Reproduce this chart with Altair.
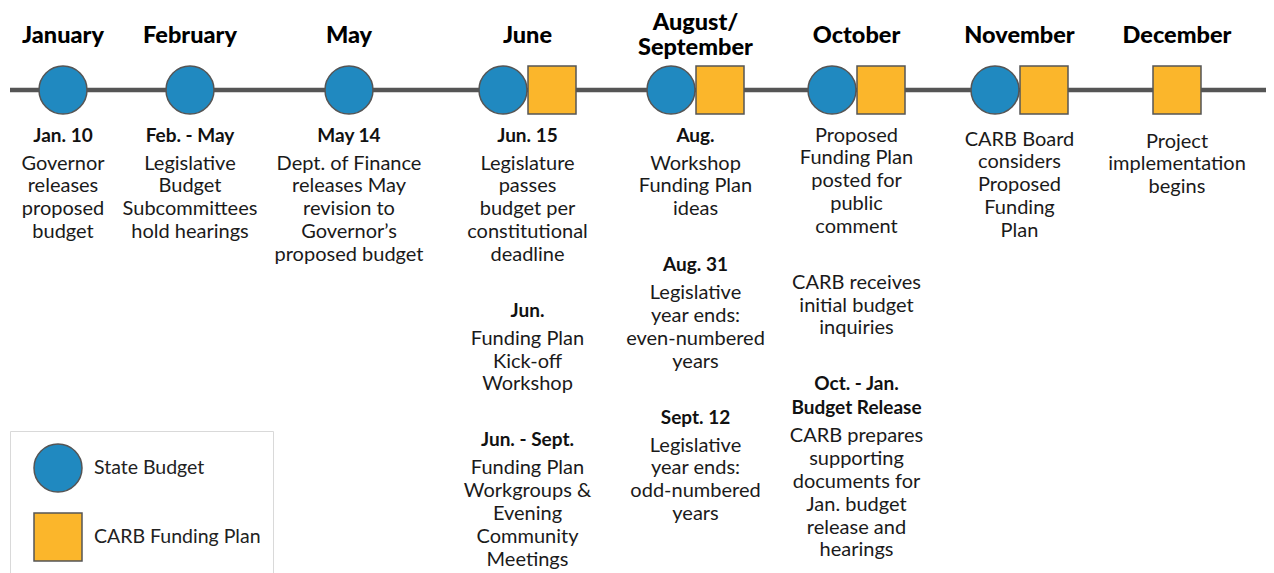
import altair as alt
import pandas as pd

# ---- content ----
months = ["January", "February", "May", "June", "August/\nSeptember",
          "October", "November", "December"]
state_budget_months = ["January", "February", "May", "June", "August/\nSeptember",
                       "October", "November"]
funding_plan_months = ["June", "August/\nSeptember", "October", "November", "December"]

# (month, heading lines, description lines)
events = [
    ("January", ["Jan. 10"], ["Governor", "releases", "proposed", "budget"]),
    ("February", ["Feb. - May"], ["Legislative", "Budget", "Subcommittees", "hold hearings"]),
    ("May", ["May 14"], ["Dept. of Finance", "releases May", "revision to",
                         "Governor\u2019s", "proposed budget"]),
    ("June", ["Jun. 15"], ["Legislature", "passes", "budget per", "constitutional", "deadline"]),
    ("June", ["Jun."], ["Funding Plan", "Kick-off", "Workshop"]),
    ("June", ["Jun. - Sept."], ["Funding Plan", "Workgroups &", "Evening", "Community", "Meetings"]),
    ("August/\nSeptember", ["Aug."], ["Workshop", "Funding Plan", "ideas"]),
    ("August/\nSeptember", ["Aug. 31"], ["Legislative", "year ends:", "even-numbered", "years"]),
    ("August/\nSeptember", ["Sept. 12"], ["Legislative", "year ends:", "odd-numbered", "years"]),
    ("October", [], ["Proposed", "Funding Plan", "posted for", "public", "comment"]),
    ("October", [], ["CARB receives", "initial budget", "inquiries"]),
    ("October", ["Oct. - Jan.", "Budget Release"], ["CARB prepares", "supporting",
                                                    "documents for", "Jan. budget",
                                                    "release and", "hearings"]),
    ("November", [], ["CARB Board", "considers", "Proposed", "Funding", "Plan"]),
    ("December", [], ["Project", "implementation", "begins"]),
]

series = ["State Budget", "CARB Funding Plan"]
series_colors = ["#2089C0", "#FBB62B"]
series_shapes = ["circle", "square"]

# ---- layout (pixels) ----
col_center = dict(zip(months, [63, 190, 349, 527.5, 695.5, 856.5, 1019.5, 1177]))
col_start = {m: 135.5 for m in months}
col_start["November"] = 139.5
col_start["December"] = 141.5
TIMELINE_Y = 90
PAIR_OFF = 24.5
HEAD_GAP, HEAD_TO_DESC, DESC_GAP, BLOCK_GAP = 24, 28, 22.8, 56
FONT = "Lato"

# month titles
title_rows = []
for m in months:
    parts = m.split("\n")
    if len(parts) == 1:
        title_rows.append({"x": col_center[m], "y": 35.5, "t": parts[0]})
    else:
        title_rows.append({"x": col_center[m], "y": 22.5, "t": parts[0]})
        title_rows.append({"x": col_center[m], "y": 48, "t": parts[1]})
titles = pd.DataFrame(title_rows)

# markers
mk = []
for m in months:
    has_s = m in state_budget_months
    has_f = m in funding_plan_months
    if has_s and has_f:
        mk.append({"x": col_center[m] - PAIR_OFF, "y": TIMELINE_Y, "s": series[0]})
        mk.append({"x": col_center[m] + PAIR_OFF, "y": TIMELINE_Y, "s": series[1]})
    elif has_s:
        mk.append({"x": col_center[m], "y": TIMELINE_Y, "s": series[0]})
    else:
        mk.append({"x": col_center[m], "y": TIMELINE_Y, "s": series[1]})
markers = pd.DataFrame(mk)

# event text lines
cursor = dict(col_start)
head_rows, desc_rows = [], []
for m, heads, descs in events:
    y = cursor[m]
    last = None
    for h in heads:
        head_rows.append({"x": col_center[m], "y": y, "t": h})
        last = y
        y += HEAD_GAP
    if heads:
        y = last + HEAD_TO_DESC
    for d in descs:
        desc_rows.append({"x": col_center[m], "y": y, "t": d})
        last = y
        y += DESC_GAP
    cursor[m] = last + BLOCK_GAP
heads_df = pd.DataFrame(head_rows)
desc_df = pd.DataFrame(desc_rows)

line_df = pd.DataFrame({"x": [10], "x2": [1274], "y": [TIMELINE_Y]})

xs = alt.Scale(domain=[8, 1266], nice=False, zero=False)
ys = alt.Scale(domain=[8, 573], nice=False, zero=False, reverse=True)


def X():
    return alt.X("x:Q", scale=xs, axis=None)


def Y():
    return alt.Y("y:Q", scale=ys, axis=None)


legend = alt.Legend(
    orient="none", legendX=2, legendY=423, title=None,
    strokeColor="#d9d9d9", fillColor="white", padding=12,
    symbolSize=2304, symbolStrokeColor="#555555",
    symbolStrokeWidth=1.5, symbolOffset=11, labelOffset=11,
    rowPadding=15, labelFontSize=19.5, labelFont=FONT,
    labelColor="#222222", labelLimit=400)

timeline = alt.Chart(line_df).mark_rule(color="#555555", strokeWidth=4.5).encode(
    x=X(), x2="x2:Q", y=Y())

points = alt.Chart(markers).mark_point(
    filled=True, size=2304, stroke="#555555", strokeWidth=1.5, opacity=1
).encode(
    x=X(), y=Y(),
    color=alt.Color("s:N", scale=alt.Scale(domain=series, range=series_colors), legend=legend),
    shape=alt.Shape("s:N", scale=alt.Scale(domain=series, range=series_shapes), legend=legend),
)

title_text = alt.Chart(titles).mark_text(
    font=FONT, fontSize=23.5, fontWeight=900, color="#000000", baseline="middle", align="center"
).encode(x=X(), y=Y(), text="t:N")

head_text = alt.Chart(heads_df).mark_text(
    font=FONT, fontSize=19, fontWeight="bold", color="#111111", baseline="middle", align="center"
).encode(x=X(), y=Y(), text="t:N")

desc_text = alt.Chart(desc_df).mark_text(
    font=FONT, fontSize=20, fontWeight="normal", color="#1a1a1a", baseline="middle", align="center"
).encode(x=X(), y=Y(), text="t:N")

chart = alt.layer(timeline, points, title_text, head_text, desc_text).properties(
    width=1258, height=565, padding=0,
    autosize=alt.AutoSizeParams(type="none"),
    background="white",
).configure_view(stroke=None)

chart.save("out.html", embed_options={"renderer": "svg", "actions": False})
